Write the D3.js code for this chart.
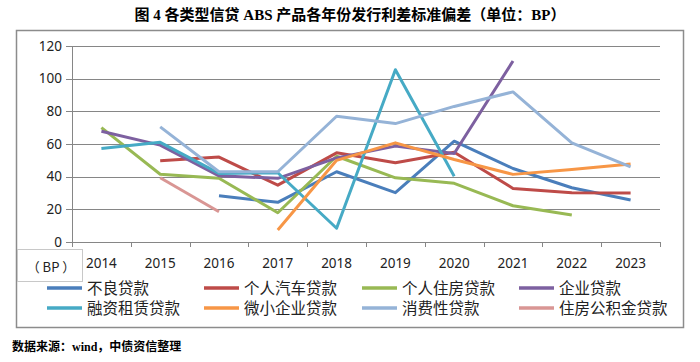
<!DOCTYPE html>
<html>
<head>
<meta charset="utf-8">
<script src="https://cdn.jsdelivr.net/npm/d3@7"></script>
<style>
  body { margin: 0; background: #fff; }
  svg { display: block; }
</style>
</head>
<body>
<svg width="700" height="362"></svg>
<script>
// years on the x axis
var years = ["2014", "2015", "2016", "2017", "2018", "2019", "2020", "2021", "2022", "2023"];
var yTicks = [0, 20, 40, 60, 80, 100, 120];

// series names (legend order)
var names = ["不良贷款", "个人汽车贷款", "个人住房贷款", "企业贷款",
             "融资租赁贷款", "微小企业贷款", "消费性贷款", "住房公积金贷款"];

// values, null = no issue that year
var npl      = [null, null, 28.3, 24.3, 43, 30.2, 61.7, 45, 33.2, 25.7];
var auto     = [null, 49.7, 52, 34.8, 54.6, 48.5, 55, 32.8, 30.1, 30];
var housing  = [70, 41.5, 39, 17.9, 52.5, 39.3, 35.9, 22.2, 16.5, null];
var corp     = [67.8, 59.3, 40.5, 39, 51.5, 58.7, 54.2, 110.8, null, null];
var leasing  = [57.3, 61, 42, 42.4, 8.4, 105.5, 40.3, null, null, null];
var micro    = [null, null, null, 7.3, 50, 60.7, 50.5, 41.4, 44.4, 47.7];
var consumer = [null, 70.5, 43, 43, 77, 72.5, 83, 91.9, 60.7, 46];
var fund     = [null, 39.3, 18.5, null, null, null, null, null, null, null];

var colors = ["#4A7EBB", "#BE4B48", "#98B954", "#7D60A0", "#46AAC5", "#F79646", "#95B3D7", "#D99694"];

var seriesVals = [npl, auto, housing, corp, leasing, micro, consumer, fund];

var svg = d3.select("svg");
var cjk = "'Noto Sans CJK SC', sans-serif";

// title
svg.append("text")
    .attr("x", 350)
    .attr("y", 20)
    .attr("text-anchor", "middle")
    .style("font-family", "'Liberation Serif', 'Noto Sans CJK SC', serif")
    .style("font-weight", "bold")
    .style("font-size", "15px")
    .text("图 4  各类型信贷 ABS 产品各年份发行利差标准偏差（单位：BP）");

// outer frame
svg.append("rect")
    .attr("x", 16.5).attr("y", 30.5)
    .attr("width", 667).attr("height", 297)
    .attr("fill", "none")
    .attr("stroke", "#8c8c8c")
    .attr("stroke-width", 1.5);

var x = d3.scaleBand().domain(years).range([72, 660]);
var y = d3.scaleLinear().domain([0, 120]).range([242, 46]);

// gridlines
svg.append("g").selectAll("line")
    .data(yTicks)
    .enter().append("line")
    .attr("x1", 66).attr("x2", 660)
    .attr("y1", d => Math.round(y(d)) + 0.5)
    .attr("y2", d => Math.round(y(d)) + 0.5)
    .attr("stroke", "#868686")
    .attr("stroke-width", 1);

// y axis line
svg.append("line")
    .attr("x1", 72.5).attr("x2", 72.5)
    .attr("y1", y(120)).attr("y2", y(0))
    .attr("stroke", "#868686");

// x axis ticks at category boundaries
svg.append("g").selectAll("line")
    .data(years.concat(["end"]))
    .enter().append("line")
    .attr("x1", d => (d == "end" ? 660 : Math.round(x(d))) + 0.5)
    .attr("x2", d => (d == "end" ? 660 : Math.round(x(d))) + 0.5)
    .attr("y1", y(0)).attr("y2", y(0) + 5)
    .attr("stroke", "#868686");

// y tick labels
svg.append("g").selectAll("text")
    .data(yTicks)
    .enter().append("text")
    .attr("x", 62)
    .attr("y", d => y(d))
    .attr("dy", "0.35em")
    .attr("text-anchor", "end")
    .style("font-family", "'Noto Sans', sans-serif")
    .style("font-size", "13.5px")
    .attr("fill", "#222")
    .text(d => d);

// x tick labels
svg.append("g").selectAll("text")
    .data(years)
    .enter().append("text")
    .attr("x", d => x(d) + x.bandwidth() / 2)
    .attr("y", 263)
    .attr("dy", "0.35em")
    .attr("text-anchor", "middle")
    .style("font-family", "'Noto Sans', sans-serif")
    .style("font-size", "13.5px")
    .attr("fill", "#222")
    .text(d => d);

// lines
var line = d3.line()
    .defined(d => d.v != null)
    .x(d => x(d.year) + x.bandwidth() / 2)
    .y(d => y(d.v));

seriesVals.forEach(function(vals, i) {
    var pts = years.map((yr, j) => ({ year: yr, v: vals[j] }));
    svg.append("path")
        .datum(pts)
        .attr("d", line)
        .attr("fill", "none")
        .attr("stroke", colors[i])
        .attr("stroke-width", 3)
        .attr("stroke-linejoin", "round");
});

// unit box
svg.append("rect")
    .attr("x", 17.5).attr("y", 249.5)
    .attr("width", 65).attr("height", 32)
    .attr("fill", "#fff")
    .attr("stroke", "#c8c8c8");
svg.append("text")
    .attr("x", 51)
    .attr("y", 267)
    .attr("dy", "0.35em")
    .attr("text-anchor", "middle")
    .style("font-family", cjk)
    .style("font-size", "13px")
    .attr("fill", "#222")
    .text("（ BP ）");

// legend
var legX = [47, 204, 362, 519];
var legY = [288, 308];
var leg = svg.append("g").selectAll("g")
    .data(names)
    .enter().append("g")
    .attr("transform", (d, i) => "translate(" + legX[i % 4] + "," + legY[Math.floor(i / 4)] + ")");

leg.append("line")
    .attr("x1", 0).attr("x2", 35)
    .attr("stroke", (d, i) => colors[i])
    .attr("stroke-width", 3.5);

leg.append("text")
    .attr("x", 40)
    .attr("dy", "0.36em")
    .style("font-family", cjk)
    .style("font-size", "15.5px")
    .attr("fill", "#222")
    .text(d => d);

// source
svg.append("text")
    .attr("x", 12)
    .attr("y", 351)
    .style("font-family", "'Liberation Serif', 'Noto Sans CJK SC', serif")
    .style("font-weight", "bold")
    .style("font-size", "12px")
    .text("数据来源：wind，中债资信整理");
</script>
</body>
</html>
